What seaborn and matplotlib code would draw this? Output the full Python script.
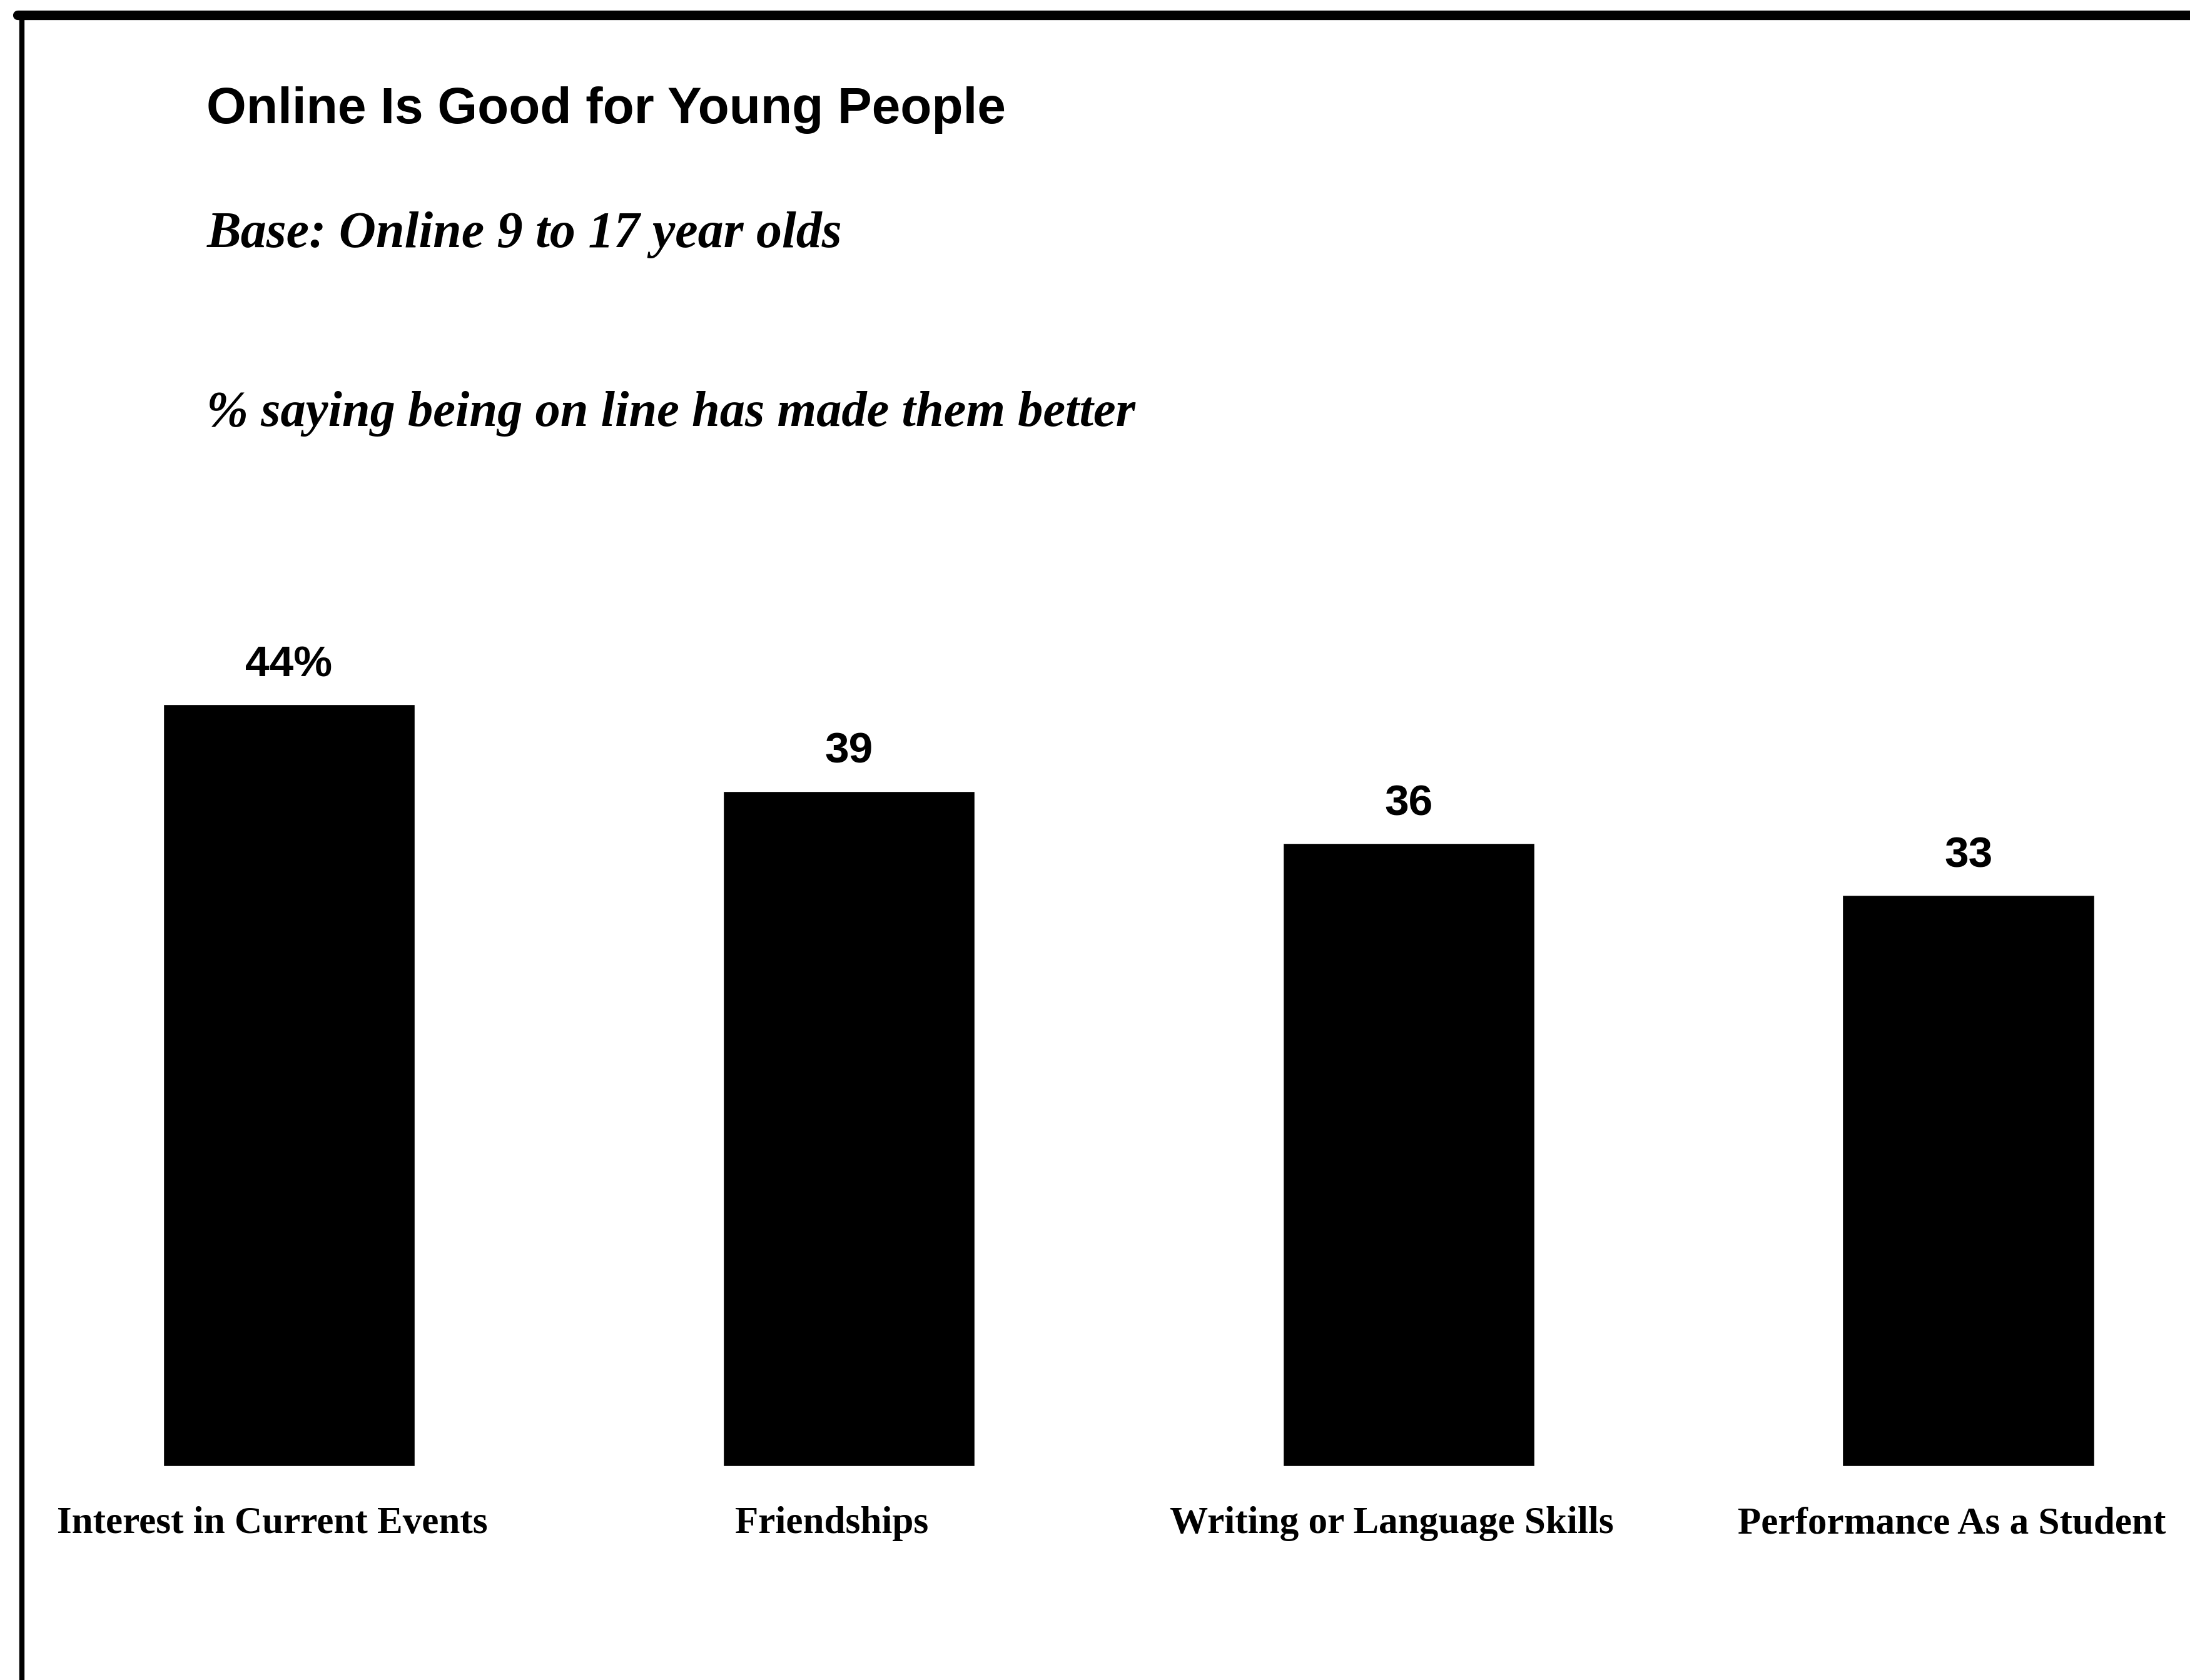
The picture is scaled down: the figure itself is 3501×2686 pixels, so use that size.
import numpy as np
import pandas as pd
import matplotlib
matplotlib.use("Agg")
import matplotlib.pyplot as plt
import matplotlib.transforms as mtransforms
import seaborn as sns

# Chart data
items = ["Interest in Current Events", "Friendships",
         "Writing or Language Skills", "Performance As a Student"]
pct_values = [44, 39, 36, 33]
value_labels = ["44%", "39", "36", "33"]

title_text = "Online Is Good for Young People"
base_text = "Base: Online 9 to 17 year olds"
measure_text = "% saying being on line has made them better"

plot_df = pd.DataFrame({"item": items, "pct": pct_values})

sns.set_theme(style="white")
plt.rcParams["font.family"] = ["Liberation Sans", "DejaVu Sans"]
plt.rcParams["text.color"] = "black"
plt.rcParams["xtick.color"] = "black"

fig = plt.figure(figsize=(35.01, 26.86), dpi=100)
fig.patch.set_facecolor("white")
ax = fig.add_axes([0.0172, 0.1272, 0.978, 0.5154])

sns.barplot(data=plot_df, x="item", y="pct", color="black", width=0.45,
            saturation=1, ax=ax)

ax.set_xlim(-0.449, 3.377)
ax.set_ylim(0, 50)
ax.set_xlabel("")
ax.set_ylabel("")
ax.set_yticks([])
ax.tick_params(axis="x", length=0, pad=46, colors="black")
# labels sit a little left of the bar centres in the original
shift = mtransforms.ScaledTranslation(-0.27, 0, fig.dpi_scale_trans)
for lbl in ax.get_xticklabels():
    lbl.set_fontfamily(["Liberation Serif", "DejaVu Serif"])
    lbl.set_fontsize(44)
    lbl.set_fontweight("bold")
    lbl.set_transform(lbl.get_transform() + shift)
sns.despine(ax=ax, left=True, bottom=True)

ax.bar_label(ax.containers[0], labels=value_labels, padding=22,
             fontsize=50, fontweight="bold", color="black")

# Headings
fig.text(0.0944, 0.9268, title_text, fontsize=59, fontweight="bold",
         color="black", va="baseline", ha="left")
fig.text(0.0944, 0.8529, base_text, fontsize=59, fontstyle="italic",
         fontweight="bold", color="black",
         family=["Liberation Serif", "DejaVu Serif"], va="baseline", ha="left")
fig.text(0.0944, 0.7465, measure_text, fontsize=58, fontstyle="italic",
         fontweight="bold", color="black",
         family=["Liberation Serif", "DejaVu Serif"], va="baseline", ha="left")

# Scan frame: top and left rules
fig.add_artist(plt.Line2D([0.008, 1.0], [1 - 24 / 2686, 1 - 24 / 2686],
                          color="black", linewidth=11, transform=fig.transFigure))
fig.add_artist(plt.Line2D([35 / 3501, 35 / 3501], [0.0, 1 - 24 / 2686],
                          color="black", linewidth=6, transform=fig.transFigure))

fig.savefig("out.png", dpi=100, facecolor="white")
